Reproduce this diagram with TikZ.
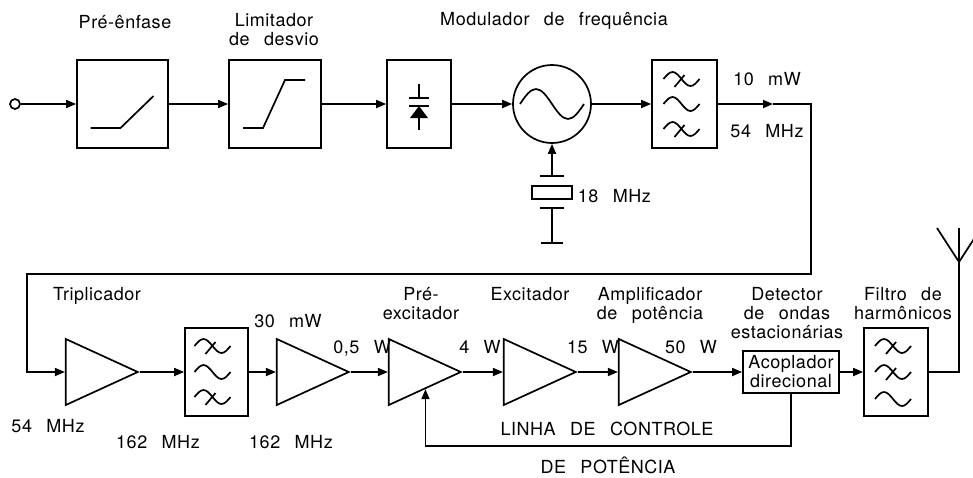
\documentclass[tikz,border=0pt]{standalone}
\usepackage{fontspec}
\setmainfont{TeX Gyre Heros}[WordSpace=2.6,LetterSpace=3]
\usetikzlibrary{arrows.meta,shapes.geometric}

\begin{document}
\begin{tikzpicture}[x=1pt,y=-1pt,line width=1.7pt,>={Triangle[length=10pt,width=8pt]},
  every node/.style={font=\fontsize{18pt}{19pt}\selectfont},
  box/.style={draw,rectangle,inner sep=0pt,minimum width=#1,minimum height=88pt},
  amp/.style={draw,isosceles triangle,isosceles triangle stretches,inner sep=0pt,
    minimum width=66pt,minimum height=72pt,anchor=apex},
  lbl/.style={anchor=base,align=center,inner sep=0pt},
  wave/.pic={\draw (-18,0) sin (-9,-7) cos (0,0) sin (9,7) cos (18,0);},
  xwave/.pic={\draw (-18,0) sin (-9,-7) cos (0,0) sin (9,7) cos (18,0);
    \draw (3,-4) -- (-7,8);}]
  \useasboundingbox (0,0) rectangle (973,477);
  % top chain
  \node[draw,circle,inner sep=0pt,minimum size=10pt] (in) at (15,104) {};
  \node[box=91pt] (pre) at (122.5,104) {};
  \node[box=92pt] (lim) at (275,104) {};
  \node[box=64pt] (var) at (419,104) {};
  \node[draw,circle,inner sep=0pt,minimum size=78pt] (osc) at (552,104) {};
  \node[box=65pt] (f1) at (684.5,104) {};
  \coordinate (m1) at (773,104);
  \coordinate (c1) at (811,274);
  \coordinate (c2) at (27,274);
  % crystal
  \coordinate (xp) at (552,176);
  \node[draw,rectangle,inner sep=0pt,minimum width=40pt,minimum height=13pt] (xtal) at (552,192.5) {};
  \coordinate (xb) at (552,208);
  \coordinate (gnd) at (552,243);
  % bottom chain
  \node[amp] (t1) at (140,372) {};
  \node[box=63pt] (f2) at (216.5,372) {};
  \node[amp] (t2) at (351,372) {};
  \node[amp] (t3) at (463,372) {};
  \node[amp] (t4) at (578,372) {};
  \node[amp] (t5) at (693,372) {};
  \node[draw,rectangle,align=center,inner sep=0pt,minimum width=96pt,minimum height=42pt]
    (cpl) at (791,372) {Acoplador\\direcional};
  \node[box=64pt] (f3) at (896,372) {};
  \coordinate (ant) at (959,262);

  % symbols inside the blocks
  \draw[shift={(pre.center)}] (-32,24) -- (-2,24) -- (31,-8);
  \draw[shift={(lim.center)}] (-32,24) -- (-12,24) -- (10,-24) -- (30,-24);
  \draw[shift={(var.center)}] (0,-20) -- (0,-6) (-10,-6) -- (10,-6) (-10,2) -- (10,2) (0,14) -- (0,26);
  \fill[shift={(var.center)}] (0,2) -- (-9,14) -- (9,14) -- cycle;
  \draw (osc.center) ++(-32,0) sin ++(16,-15) cos ++(16,15) sin ++(16,15) cos ++(16,-15);
  \pic at ([shift={(-3,-25)}]f1.center) {xwave};
  \pic at ([shift={(-3,0)}]f1.center) {wave};
  \pic at ([shift={(-3,25)}]f1.center) {xwave};
  \pic at ([shift={(-4,-26)}]f2.center) {xwave};
  \pic at ([shift={(-4,0)}]f2.center) {wave};
  \pic at ([shift={(-4,25)}]f2.center) {xwave};
  \pic at ([shift={(-3,-26)}]f3.center) {xwave};
  \pic at ([shift={(-3,0)}]f3.center) {xwave};
  \pic at ([shift={(-3,27)}]f3.center) {wave};
  \draw (xp) ++(-12,0) -- ++(24,0);
  \draw (xb) ++(-12,0) -- ++(24,0);
  \draw (gnd) ++(-11,0) -- ++(22,0);

  % connections
  \draw[->] (in) -- (pre);
  \draw[->] (pre) -- (lim);
  \draw[->] (lim) -- (var);
  \draw[->] (var) -- (osc);
  \draw[->] (osc) -- (f1);
  \draw[->] (xp) -- (osc);
  \draw (xb) -- (gnd);
  \draw[->] (f1) -- (m1);
  \draw[->] (m1) -| (c1) -- (c2) |- (t1.west);
  \draw[->] (t1.apex) -- (f2);
  \draw[->] (f2) -- (t2.west);
  \draw[->] (t2.apex) -- (t3.west);
  \draw[->] (t3.apex) -- (t4.west);
  \draw[->] (t4.apex) -- (t5.west);
  \draw[->] (t5.apex) -- (cpl);
  \draw[->] (cpl) -- (f3);
  \draw (f3) -| (ant);
  \draw (ant) -- ++(0,-34) (ant) -- ++(-22,-34) (ant) -- ++(22,-34);
  \draw[->] (cpl.south) -- ++(0,52) -| (t3.right side);

  % labels
  \node[lbl] (lpre) at (125,28) {Pré-ênfase};
  \node[lbl] (llim) at (274,45) {Limitador\\de desvio};
  \node[lbl] (lmod) at (554,25) {Modulador de frequência};
  \node[lbl] (l10) at (767,85) {10 mW};
  \node[lbl] (l54a) at (767,137) {54 MHz};
  \node[lbl,anchor=base west] (l18) at (577,202) {18 MHz};
  \node[lbl] (ltri) at (97,300) {Triplicador};
  \node[lbl] (l54b) at (48,432) {54 MHz};
  \node[lbl] (l162a) at (158,448) {162 MHz};
  \node[lbl] (l30) at (288,327) {30 mW};
  \node[lbl] (l162b) at (291,448) {162 MHz};
  \node[lbl] (l05) at (362,353) {0,5 W};
  \node[lbl] (lpex) at (421,319) {Pré-\\excitador};
  \node[lbl] (l4) at (480,353) {4 W};
  \node[lbl] (lexc) at (530,300) {Excitador};
  \node[lbl] (l15) at (593,353) {15 W};
  \node[lbl] (lamp) at (650,319) {Amplificador\\de potência};
  \node[lbl] (l50) at (691,353) {50 W};
  \node[lbl] (ldet) at (787,338) {Detector\\de ondas\\estacionárias};
  \node[lbl] (lfil) at (903,319) {Filtro de\\harmônicos};
  \node[lbl] (llin) at (607,435) {LINHA DE CONTROLE};
  \node[lbl] (lpot) at (608,473) {DE POTÊNCIA};
\end{tikzpicture}
\end{document}
